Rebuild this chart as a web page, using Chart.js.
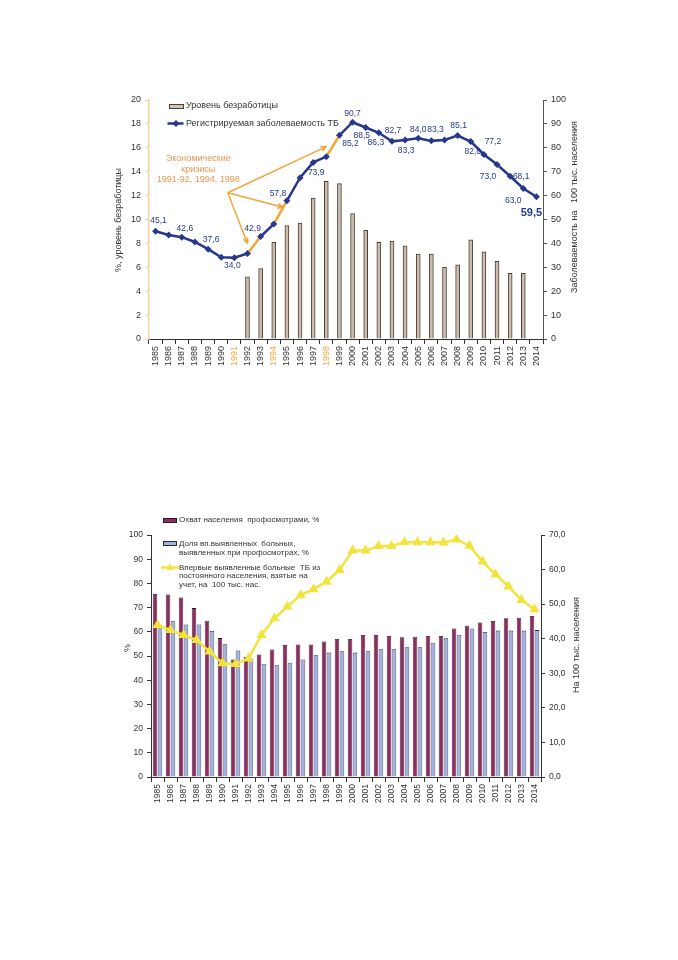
<!DOCTYPE html>
<html>
<head>
<meta charset="utf-8">
<script src="https://cdn.jsdelivr.net/npm/chart.js@4"></script>
<style>
  body { margin: 0; background: #fff; }
  .page { position: relative; width: 678px; height: 960px; }
  canvas { position: absolute; }
  #unemployChart { left: 95px; top: 85px; }
  #screeningChart { left: 95px; top: 500px; }
</style>
</head>
<body>
<div class="page">
  <canvas id="unemployChart" width="510" height="330"></canvas>
  <canvas id="screeningChart" width="510" height="330"></canvas>
</div>
<script>
// ---- data ----
const years = ['1985','1986','1987','1988','1989','1990','1991','1992','1993','1994',
  '1995','1996','1997','1998','1999','2000','2001','2002','2003','2004',
  '2005','2006','2007','2008','2009','2010','2011','2012','2013','2014'];

// chart 1: unemployment (%) and registered TB incidence (per 100k)
const unemployment = [null, null, null, null, null, null, null, 5.2, 5.9, 8.1,
  9.5, 9.7, 11.8, 13.2, 13.0, 10.5, 9.1, 8.1, 8.2, 7.8,
  7.1, 7.1, 6.0, 6.2, 8.3, 7.3, 6.5, 5.5, 5.5, null];
const tbIncidence = [45.1, 43.5, 42.6, 40.6, 37.6, 34.2, 34.0, 35.8, 42.9, 48.1,
  57.8, 67.5, 73.9, 76.3, 85.2, 90.7, 88.5, 86.3, 82.7, 83.3,
  84.0, 82.9, 83.3, 85.1, 82.6, 77.2, 73.0, 68.1, 63.0, 59.5];
const crisisYears = ['1991', '1994', '1998'];
const crisisSegments = [7, 9, 13]; // segment starting at these indices is highlighted
const unemployTicks = { min: 0, max: 20, step: 2 };
const incidenceTicks = { min: 0, max: 100, step: 10 };

// chart 2: screening coverage, share found by screening, new TB cases
const screeningCoverage = [75.6, 75.4, 74.2, 69.8, 64.6, 57.4, 48.6, 49.7, 50.6, 52.7,
  54.6, 54.8, 54.8, 56.0, 57.0, 57.0, 58.7, 58.7, 58.3, 57.7,
  58.0, 58.3, 58.3, 61.4, 62.5, 63.8, 64.5, 65.6, 65.8, 66.5];
const foundByScreening = [62.5, 64.4, 63.0, 63.0, 60.3, 54.9, 52.3, 49.0, 46.8, 46.2,
  47.2, 48.6, 50.3, 51.4, 52.0, 51.4, 52.0, 52.8, 52.8, 53.6,
  53.6, 55.5, 57.3, 58.8, 61.4, 59.9, 60.5, 60.5, 60.5, 60.7];
const newCases = [44.0, 42.5, 41.1, 39.6, 36.3, 32.9, 32.7, 34.3, 41.1, 45.9,
  49.3, 52.6, 54.3, 56.5, 59.9, 65.5, 65.5, 66.8, 66.8, 67.9,
  67.9, 67.9, 67.8, 68.7, 66.9, 62.3, 58.6, 55.1, 51.2, 48.5];
const percentTicks = { min: 0, max: 100, step: 10 };
const per100kTicks = { min: 0, max: 70, step: 10 };

// ---- styles ----
const FONT = '"Liberation Sans", Arial, sans-serif';
const NAVY = '#26388c';
const ORANGE = '#f2a63a';
const ORANGE_TEXT = '#ec9650';
const YELLOW = '#f2e43c';
const TEXT = '#333';

// which incidence points get a value label, and where [index, dx, dy]
const labelOffsets = [[0,3,-11],[2,3,-9],[4,3,-9],[6,-2,8],[8,-8,-8],[10,-9,-7],
  [12,3,10],[14,11,8],[15,0,-9],[16,-4,8],[17,-3,10],[18,1,-11],[19,1,11],
  [20,0,-9],[22,-9,-10],[23,1,-10],[24,2,10],[25,9,-13],[26,-9,12],
  [27,11,0],[28,-10,12],[29,-5,16]];

const fmt = v => v.toFixed(1).replace('.', ',');

function drawArrow(ctx, x0, y0, x1, y1) {
    const a = Math.atan2(y1 - y0, x1 - x0);
    ctx.beginPath();
    ctx.moveTo(x0, y0);
    ctx.lineTo(x1, y1);
    ctx.stroke();
    ctx.beginPath();
    ctx.moveTo(x1, y1);
    ctx.lineTo(x1 - 6 * Math.cos(a - 0.4), y1 - 6 * Math.sin(a - 0.4));
    ctx.moveTo(x1, y1);
    ctx.lineTo(x1 - 6 * Math.cos(a + 0.4), y1 - 6 * Math.sin(a + 0.4));
    ctx.stroke();
}

function vText(ctx, text, x, y) {
    ctx.save();
    ctx.translate(x, y);
    ctx.rotate(-Math.PI / 2);
    ctx.textAlign = 'center';
    ctx.textBaseline = 'middle';
    ctx.fillText(text, 0, 0);
    ctx.restore();
}

// ---- chart 1 extras: labels, crisis arrows, legend, titles ----
const unemployDecor = {
    id: 'unemployDecor',
    afterDatasetsDraw(chart) {
        const ctx = chart.ctx;
        const meta = chart.getDatasetMeta(0);
        const xs = chart.scales.x, ys = chart.scales.y1;
        ctx.save();

        // arrows from the crisis note
        ctx.strokeStyle = ORANGE;
        ctx.lineWidth = 1.5;
        const sx = xs.getPixelForValue(5.5), sy = ys.getPixelForValue(61.2);
        drawArrow(ctx, sx, sy, xs.getPixelForValue(13.0), ys.getPixelForValue(80.5));
        drawArrow(ctx, sx, sy, xs.getPixelForValue(9.7), ys.getPixelForValue(55.1));
        drawArrow(ctx, sx, sy, xs.getPixelForValue(7.0), ys.getPixelForValue(40.0));

        ctx.fillStyle = ORANGE_TEXT;
        ctx.font = '9px ' + FONT;
        ctx.textAlign = 'center';
        ctx.textBaseline = 'middle';
        const tx = xs.getPixelForValue(3.25), ty = ys.getPixelForValue(75.6);
        ['Экономические', 'кризисы', '1991-92, 1994, 1998'].forEach((t, k) => {
            ctx.fillText(t, tx, ty + k * 10.7);
        });

        // value labels on the incidence line
        ctx.fillStyle = NAVY;
        labelOffsets.forEach(([i, dx, dy]) => {
            const p = meta.data[i];
            ctx.font = (i === tbIncidence.length - 1 ? 'bold 11px ' : '8.5px ') + FONT;
            ctx.fillText(fmt(tbIncidence[i]), p.x + dx, p.y + dy);
        });

        // legend
        ctx.fillStyle = '#d2c3b3';
        ctx.strokeStyle = '#4a4038';
        ctx.lineWidth = 1;
        ctx.fillRect(74.5, 19.5, 14, 4);
        ctx.strokeRect(74.5, 19.5, 14, 4);
        ctx.strokeStyle = NAVY;
        ctx.lineWidth = 2.5;
        ctx.beginPath();
        ctx.moveTo(72.5, 38.5);
        ctx.lineTo(88.5, 38.5);
        ctx.stroke();
        ctx.fillStyle = NAVY;
        ctx.beginPath();
        ctx.moveTo(81, 35); ctx.lineTo(84.5, 38.5); ctx.lineTo(81, 42); ctx.lineTo(77.5, 38.5);
        ctx.closePath();
        ctx.fill();
        ctx.fillStyle = TEXT;
        ctx.font = '9px ' + FONT;
        ctx.textAlign = 'left';
        ctx.fillText('Уровень безработицы', 91, 20.5);
        ctx.fillText('Регистрируемая заболеваемость ТБ', 91, 39);

        // axis titles
        ctx.font = '9px ' + FONT;
        vText(ctx, '%, уровень безработицы', 24, 135);
        vText(ctx, 'Заболеваемость на   100 тыс. населения', 480, 122);
        ctx.restore();
    }
};

new Chart(document.getElementById('unemployChart'), {
    type: 'bar',
    data: {
        labels: years,
        datasets: [{
            type: 'line',
            label: 'Регистрируемая заболеваемость ТБ',
            data: tbIncidence,
            yAxisID: 'y1',
            borderColor: NAVY,
            borderWidth: 2.5,
            pointStyle: 'rectRot',
            pointRadius: 3.5,
            pointBackgroundColor: NAVY,
            pointBorderColor: NAVY,
            pointBorderWidth: 0,
            tension: 0,
            segment: {
                borderColor: c => crisisSegments.includes(c.p0DataIndex) ? ORANGE : NAVY
            },
            order: 0
        }, {
            label: 'Уровень безработицы',
            data: unemployment,
            yAxisID: 'y',
            backgroundColor: '#cdbdac',
            borderColor: '#4a4038',
            borderWidth: 1,
            barThickness: 4,
            order: 1
        }]
    },
    options: {
        responsive: false,
        animation: false,
        events: [],
        layout: { padding: { top: 15, left: 0, right: 0, bottom: 0 } },
        plugins: { legend: { display: false }, tooltip: { enabled: false } },
        scales: {
            x: {
                grid: { display: true, drawOnChartArea: false, tickLength: 5, color: '#333' },
                border: { color: '#333' },
                ticks: {
                    autoSkip: false, minRotation: 90, maxRotation: 90, padding: 2,
                    font: { family: FONT, size: 9 },
                    color: c => crisisYears.includes(years[c.index]) ? ORANGE : TEXT
                },
                afterFit: s => { s.height = 76; }
            },
            y: {
                position: 'left',
                min: unemployTicks.min, max: unemployTicks.max,
                ticks: { stepSize: unemployTicks.step, padding: 4, color: TEXT, font: { family: FONT, size: 9 } },
                grid: { drawOnChartArea: false, tickLength: 4, color: '#f6cf9e' },
                border: { color: '#f6cf9e', width: 1.5 },
                afterFit: s => { s.width = 54; }
            },
            y1: {
                position: 'right',
                min: incidenceTicks.min, max: incidenceTicks.max,
                ticks: { stepSize: incidenceTicks.step, padding: 4, color: TEXT, font: { family: FONT, size: 9 } },
                grid: { drawOnChartArea: false, tickLength: 4, color: '#555' },
                border: { color: '#555' },
                afterFit: s => { s.width = 62; }
            }
        }
    },
    plugins: [unemployDecor]
});

// ---- chart 2 extras: legend and titles ----
const screeningDecor = {
    id: 'screeningDecor',
    afterDraw(chart) {
        const ctx = chart.ctx;
        ctx.save();
        ctx.lineWidth = 1;
        ctx.strokeStyle = '#2a1a24';
        ctx.fillStyle = '#8e2c60';
        ctx.fillRect(68.5, 18.5, 13, 4);
        ctx.strokeRect(68.5, 18.5, 13, 4);
        ctx.fillStyle = '#a3b3df';
        ctx.strokeStyle = '#2a2a40';
        ctx.fillRect(68.5, 41.5, 13, 4);
        ctx.strokeRect(68.5, 41.5, 13, 4);

        ctx.strokeStyle = YELLOW;
        ctx.lineWidth = 2.5;
        ctx.beginPath();
        ctx.moveTo(66, 67.5);
        ctx.lineTo(84, 67.5);
        ctx.stroke();
        ctx.fillStyle = YELLOW;
        ctx.beginPath();
        ctx.moveTo(75, 63.5); ctx.lineTo(78.5, 70); ctx.lineTo(71.5, 70);
        ctx.closePath();
        ctx.fill();

        ctx.fillStyle = TEXT;
        ctx.font = '8px ' + FONT;
        ctx.textAlign = 'left';
        ctx.textBaseline = 'middle';
        ctx.fillText('Охват населения  профосмотрами, %', 84, 20);
        ctx.fillText('Доля вп.выявленных  больных,', 84, 43.5);
        ctx.fillText('выявленных при профосмотрах, %', 84, 52.5);
        ctx.fillText('Впервые выявленные больные  ТБ из', 84, 67.5);
        ctx.fillText('постоянного населения, взятые на', 84, 76.2);
        ctx.fillText('учет, на  100 тыс. нас.', 84, 85);

        ctx.font = '9px ' + FONT;
        vText(ctx, '%', 33, 148);
        vText(ctx, 'На 100 тыс. населения', 482, 145);
        ctx.restore();
    }
};

new Chart(document.getElementById('screeningChart'), {
    type: 'bar',
    data: {
        labels: years,
        datasets: [{
            type: 'line',
            label: 'Впервые выявленные больные ТБ из постоянного населения, взятые на учет, на 100 тыс. нас.',
            data: newCases,
            yAxisID: 'y1',
            borderColor: YELLOW,
            borderWidth: 2.5,
            pointStyle: 'triangle',
            pointRadius: 3.5,
            pointBackgroundColor: YELLOW,
            pointBorderColor: YELLOW,
            tension: 0,
            order: 0
        }, {
            label: 'Охват населения профосмотрами, %',
            data: screeningCoverage,
            yAxisID: 'y',
            backgroundColor: '#8e2c60',
            borderColor: '#2a1a24',
            borderWidth: 0.8,
            categoryPercentage: 0.76,
            barPercentage: 0.92,
            order: 1
        }, {
            label: 'Доля вп.выявленных больных, выявленных при профосмотрах, %',
            data: foundByScreening,
            yAxisID: 'y',
            backgroundColor: '#a3b3df',
            borderColor: '#2a2a40',
            borderWidth: 0.8,
            categoryPercentage: 0.76,
            barPercentage: 0.92,
            order: 2
        }]
    },
    options: {
        responsive: false,
        animation: false,
        events: [],
        layout: { padding: { top: 35, left: 0, right: 0, bottom: 0 } },
        plugins: { legend: { display: false }, tooltip: { enabled: false } },
        scales: {
            x: {
                grid: { display: true, drawOnChartArea: false, tickLength: 5, color: '#333' },
                border: { color: '#333' },
                ticks: {
                    autoSkip: false, minRotation: 90, maxRotation: 90, padding: 2,
                    font: { family: FONT, size: 8.5 }, color: TEXT
                },
                afterFit: s => { s.height = 53; }
            },
            y: {
                position: 'left',
                min: percentTicks.min, max: percentTicks.max,
                ticks: { stepSize: percentTicks.step, padding: 4, color: TEXT, font: { family: FONT, size: 8.5 } },
                grid: { drawOnChartArea: false, tickLength: 4, color: '#333' },
                border: { color: '#333' },
                afterFit: s => { s.width = 56; }
            },
            y1: {
                position: 'right',
                min: per100kTicks.min, max: per100kTicks.max,
                ticks: {
                    stepSize: per100kTicks.step, padding: 4, color: TEXT,
                    font: { family: FONT, size: 8.5 },
                    callback: v => fmt(v)
                },
                grid: { drawOnChartArea: false, tickLength: 4, color: '#333' },
                border: { color: '#333' },
                afterFit: s => { s.width = 64; }
            }
        }
    },
    plugins: [screeningDecor]
});
</script>
</body>
</html>
